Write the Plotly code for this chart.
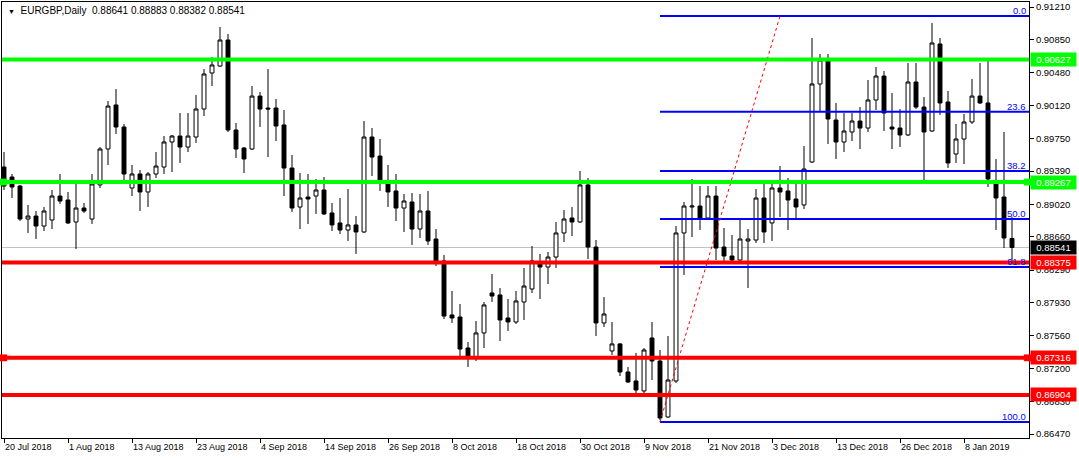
import pandas as pd
import plotly.graph_objects as go

symbol = "EURGBP,Daily"

# trading days shown (Dec 25 and Jan 1 have no bar)
all_days = pd.bdate_range("2018-07-20", "2019-01-16")
dates = [d for d in all_days if not (d.month == 12 and d.day == 25) and not (d.month == 1 and d.day == 1)]

opens = [0.89434, 0.89323, 0.89223, 0.88857, 0.88890, 0.88779, 0.88846, 0.89112, 0.89068, 0.88824,
         0.88979, 0.88857, 0.89235, 0.89634, 0.90123, 0.89878, 0.89201, 0.89357, 0.89157, 0.89357,
         0.89434, 0.89712, 0.89778, 0.89656, 0.89767, 0.90078, 0.90478, 0.90555, 0.90844, 0.89845,
         0.89645, 0.89634, 0.90222, 0.90089, 0.90089, 0.89901, 0.89423, 0.88990, 0.89101, 0.89112,
         0.89179, 0.88924, 0.88813, 0.88735, 0.88791, 0.88713, 0.89767, 0.89556, 0.89279, 0.89168,
         0.88979, 0.89046, 0.88746, 0.88946, 0.88635, 0.88391, 0.87792, 0.87769, 0.87425, 0.87325,
         0.87592, 0.88036, 0.88014, 0.87758, 0.87714, 0.87936, 0.88080, 0.88380, 0.88324, 0.88435,
         0.88702, 0.88868, 0.88824, 0.89235, 0.88546, 0.87703, 0.87392, 0.87470, 0.87159, 0.87059,
         0.86948, 0.87536, 0.87281, 0.86659, 0.87059, 0.88702, 0.88990, 0.89001, 0.88868, 0.89112,
         0.88546, 0.88446, 0.88402, 0.88613, 0.88624, 0.89090, 0.88813, 0.89201, 0.89168, 0.89079,
         0.89013, 0.89490, 0.90356, 0.90622, 0.89956, 0.89712, 0.89823, 0.89945, 0.89867, 0.90178,
         0.90444, 0.89878, 0.89867, 0.89790, 0.90378, 0.90100, 0.89834, 0.90800, 0.90156, 0.89579,
         0.89745, 0.89934, 0.90222, 0.90145, 0.89246, 0.89101, 0.88641]
highs = [0.89601, 0.89357, 0.89235, 0.89013, 0.88946, 0.88990, 0.89179, 0.89357, 0.89157, 0.89246,
         0.89035, 0.89357, 0.89656, 0.90167, 0.90300, 0.89912, 0.89457, 0.89401, 0.89379, 0.89601,
         0.89778, 0.89790, 0.90034, 0.90034, 0.90234, 0.90522, 0.90655, 0.90988, 0.90911, 0.89923,
         0.89656, 0.90333, 0.90267, 0.90522, 0.90189, 0.90067, 0.89568, 0.89368, 0.89357, 0.89301,
         0.89323, 0.89035, 0.89090, 0.89190, 0.88890, 0.89945, 0.89867, 0.89745, 0.89457, 0.89357,
         0.89135, 0.89146, 0.89135, 0.89168, 0.88746, 0.88458, 0.88058, 0.87914, 0.87492, 0.87725,
         0.87936, 0.88247, 0.88091, 0.87969, 0.88058, 0.88313, 0.88557, 0.88469, 0.88491, 0.88824,
         0.88957, 0.88990, 0.89390, 0.89312, 0.88624, 0.87991, 0.87714, 0.87481, 0.87214, 0.87370,
         0.87425, 0.87714, 0.87403, 0.87558, 0.88779, 0.89046, 0.89301, 0.89223, 0.89223, 0.89223,
         0.88757, 0.88680, 0.88857, 0.88746, 0.89190, 0.89257, 0.89257, 0.89445, 0.89312, 0.89257,
         0.89667, 0.90866, 0.90689, 0.90689, 0.90145, 0.90034, 0.90034, 0.90100, 0.90400, 0.90544,
         0.90500, 0.90256, 0.90078, 0.90589, 0.90589, 0.90211, 0.91033, 0.90866, 0.90278, 0.89912,
         0.90023, 0.90411, 0.90589, 0.90611, 0.89523, 0.89823, 0.88883]
lows = [0.89179, 0.89090, 0.88835, 0.88702, 0.88635, 0.88724, 0.88746, 0.89024, 0.88802, 0.88524,
        0.88924, 0.88802, 0.89201, 0.89457, 0.89801, 0.89290, 0.89112, 0.88946, 0.88990, 0.89312,
        0.89357, 0.89379, 0.89479, 0.89601, 0.89701, 0.90000, 0.90333, 0.90544, 0.89823, 0.89534,
        0.89368, 0.89623, 0.89878, 0.89545, 0.89723, 0.89112, 0.88935, 0.88746, 0.88802, 0.88913,
        0.88902, 0.88724, 0.88691, 0.88613, 0.88469, 0.88702, 0.89334, 0.89168, 0.88990, 0.88835,
        0.88713, 0.88569, 0.88646, 0.88569, 0.88335, 0.87747, 0.87703, 0.87325, 0.87214, 0.87281,
        0.87425, 0.87936, 0.87503, 0.87614, 0.87692, 0.87736, 0.88036, 0.87969, 0.88136, 0.88313,
        0.88602, 0.88668, 0.88813, 0.88413, 0.87558, 0.87658, 0.87348, 0.87114, 0.87037, 0.86904,
        0.86904, 0.87070, 0.86626, 0.86648, 0.87037, 0.88236, 0.88657, 0.88735, 0.88846, 0.88402,
        0.88380, 0.88380, 0.88391, 0.88091, 0.88591, 0.88591, 0.88613, 0.88879, 0.88735, 0.88868,
        0.88968, 0.89479, 0.90056, 0.89690, 0.89523, 0.89601, 0.89723, 0.89634, 0.89823, 0.90067,
        0.89834, 0.89634, 0.89656, 0.89778, 0.90078, 0.89279, 0.89823, 0.90012, 0.89423, 0.89479,
        0.89468, 0.89912, 0.90134, 0.89212, 0.88735, 0.88535, 0.88382]
closes = [0.89223, 0.89212, 0.88857, 0.88890, 0.88779, 0.88946, 0.89112, 0.89057, 0.88813, 0.88979,
          0.88946, 0.89246, 0.89634, 0.90111, 0.89878, 0.89357, 0.89357, 0.89157, 0.89357, 0.89445,
          0.89712, 0.89778, 0.89656, 0.89778, 0.90078, 0.90467, 0.90567, 0.90844, 0.89845, 0.89634,
          0.89523, 0.90222, 0.90078, 0.90078, 0.89889, 0.89423, 0.88979, 0.89090, 0.89079, 0.89179,
          0.88913, 0.88791, 0.88735, 0.88791, 0.88713, 0.89767, 0.89545, 0.89279, 0.89157, 0.88979,
          0.89057, 0.88746, 0.88946, 0.88613, 0.88391, 0.87780, 0.87758, 0.87414, 0.87325, 0.87592,
          0.87903, 0.88002, 0.87736, 0.87714, 0.87947, 0.88113, 0.88391, 0.88324, 0.88435, 0.88702,
          0.88857, 0.88824, 0.89235, 0.88546, 0.87703, 0.87803, 0.87470, 0.87159, 0.87048, 0.86959,
          0.87403, 0.87281, 0.86648, 0.87070, 0.88702, 0.89001, 0.89001, 0.88868, 0.89112, 0.88535,
          0.88446, 0.88402, 0.88635, 0.88635, 0.89090, 0.88713, 0.89201, 0.89157, 0.89068, 0.88990,
          0.89412, 0.90356, 0.90622, 0.89967, 0.89712, 0.89834, 0.89945, 0.89867, 0.90178, 0.90444,
          0.90034, 0.89856, 0.89790, 0.90378, 0.90100, 0.89823, 0.90811, 0.90145, 0.89479, 0.89745,
          0.89934, 0.90222, 0.90145, 0.89301, 0.89090, 0.88646, 0.88541]

# horizontal support / resistance lines
green_levels = [0.90627, 0.89267]
red_levels = [0.88375, 0.87316, 0.86904]

# Fibonacci retracement anchors (bar index, price)
fib_low_bar, fib_low = 82, 0.86604
fib_high_bar, fib_high = 97, 0.91110
fib_ratios = [0.0, 23.6, 38.2, 50.0, 61.8, 100.0]

# price axis ticks
y_ticks = [0.91210, 0.90850, 0.90480, 0.90120, 0.89750, 0.89390, 0.89020,
           0.88660, 0.88290, 0.87930, 0.87560, 0.87200, 0.86830, 0.86470]

# date axis ticks every 8 bars
x_tick_idx = list(range(0, len(dates), 8))
x_tick_text = [f"{dates[i].day} {dates[i].strftime('%b %Y')}" for i in x_tick_idx]

FONT = "Liberation Sans"
FS = 9
idx = list(range(len(dates)))
x_min, x_max = -0.25, 128.125
y_min, y_max = 0.86426, 0.91266

fig = go.Figure()

fig.add_trace(go.Candlestick(
    x=idx, open=opens, high=highs, low=lows, close=closes,
    increasing=dict(fillcolor="white", line=dict(color="black", width=1)),
    decreasing=dict(fillcolor="black", line=dict(color="black", width=1)),
    whiskerwidth=0, showlegend=False, hoverinfo="skip",
))

shapes = []
# bid line
shapes.append(dict(type="line", xref="paper", x0=0, x1=1, yref="y", y0=closes[-1], y1=closes[-1],
                   line=dict(color="#c0c0c0", width=1), layer="below"))

# Fibonacci levels (rays from the low anchor to the right edge)
fib_range = fib_high - fib_low
fib_prices = [fib_high - r / 100.0 * fib_range for r in fib_ratios]
for r, p in zip(fib_ratios, fib_prices):
    fig.add_trace(go.Scatter(x=[fib_low_bar, x_max], y=[p, p], mode="lines",
                             line=dict(color="#0000ff", width=2), showlegend=False, hoverinfo="skip"))
# fib trend line
fig.add_trace(go.Scatter(x=[fib_low_bar, fib_high_bar], y=[fib_low, fib_high], mode="lines",
                         line=dict(color="#ff0000", width=1, dash="dot"), showlegend=False, hoverinfo="skip"))

for lv in green_levels:
    shapes.append(dict(type="line", xref="paper", x0=0, x1=1, yref="y", y0=lv, y1=lv,
                       line=dict(color="#00ff00", width=4)))
for lv in red_levels:
    shapes.append(dict(type="line", xref="paper", x0=0, x1=1, yref="y", y0=lv, y1=lv,
                       line=dict(color="#ff0000", width=4)))

annotations = []
# fib labels
for r, p in zip(fib_ratios, fib_prices):
    annotations.append(dict(xref="paper", x=0.999, yref="y", y=p, text=f"{r:.1f}",
                            xanchor="right", yanchor="bottom", showarrow=False,
                            font=dict(family=FONT, size=FS + 0.5, color="#0000ff"), yshift=-2))

# price tags on the right axis
def tag(price, bg, fg="white"):
    annotations.append(dict(xref="paper", x=1, xshift=1, yref="y", y=price, text=f"{price:.5f}",
                            xanchor="left", yanchor="middle", showarrow=False, bgcolor=bg,
                            width=43, height=11, align="center", borderpad=1,
                            font=dict(family=FONT, size=FS + 0.5, color=fg)))

for lv in green_levels:
    tag(lv, "#00ff00")
for lv in red_levels:
    tag(lv, "#ff0000")
tag(closes[-1], "black")

# title
annotations.append(dict(xref="paper", yref="paper", x=0.004, y=0.997, xanchor="left", yanchor="top",
                        showarrow=False,
                        text=f"<span style='font-size:7px'>▼</span>  {symbol}  {opens[-1]:.5f} {highs[-1]:.5f} {lows[-1]:.5f} {closes[-1]:.5f}",
                        font=dict(family=FONT, size=FS + 1, color="black")))

# selection squares for two horizontal lines
for lv, col in [(green_levels[1], "#00ff00"), (red_levels[1], "#ff0000")]:
    for xp in (0.0015, 0.9985):
        shapes.append(dict(type="rect", xref="paper", yref="y", x0=xp - 0.0035, x1=xp + 0.0035,
                           y0=lv - 0.00038, y1=lv + 0.00038, fillcolor=col, line=dict(width=0)))

fig.update_layout(
    width=1079, height=460,
    margin=dict(l=2, r=50, t=2, b=22),
    paper_bgcolor="white", plot_bgcolor="white",
    shapes=shapes, annotations=annotations,
    font=dict(family=FONT, size=FS, color="black"),
    xaxis=dict(range=[x_min, x_max], showgrid=False, zeroline=False, showline=True,
               linecolor="black", linewidth=1, mirror=True, ticks="outside", ticklen=4,
               tickcolor="black", tickvals=x_tick_idx, ticktext=x_tick_text, tickangle=0,
               ticklabelposition="outside right", rangeslider=dict(visible=False), automargin=False,
               tickfont=dict(family=FONT, size=FS, color="black")),
    yaxis=dict(range=[y_min, y_max], side="right", showgrid=False, zeroline=False, showline=True,
               linecolor="black", linewidth=1, mirror=True, ticks="outside", ticklen=4,
               tickcolor="black", tickvals=y_ticks, ticktext=[f"{v:.5f}" for v in y_ticks],
               automargin=False, tickfont=dict(family=FONT, size=FS + 0.5, color="black")),
)

fig.write_html("out.html", config={"displayModeBar": False},
               post_script="document.body.style.margin='0';document.body.style.overflow='hidden';")
